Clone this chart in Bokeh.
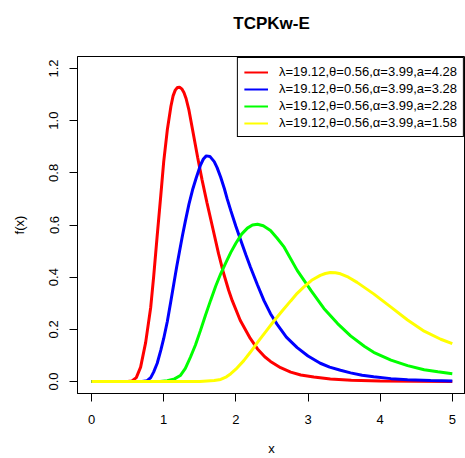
from bokeh.plotting import figure
from bokeh.models import Range1d, FixedTicker, Legend, LegendItem, LinearAxis
from bokeh.embed import file_html
from bokeh.resources import INLINE

# ---- data ----
x_ticks = [0, 1, 2, 3, 4, 5]
y_ticks = [0.0, 0.2, 0.4, 0.6, 0.8, 1.0, 1.2]
y_tick_labels = ["0.0", "0.2", "0.4", "0.6", "0.8", "1.0", "1.2"]

red_x = [0.0, 0.5, 0.56, 0.62, 0.68, 0.75, 0.82, 0.86, 0.91, 0.96, 1.0, 1.05, 1.1, 1.13, 1.16,
         1.19, 1.22, 1.25, 1.28, 1.31, 1.35, 1.4, 1.47, 1.53, 1.6, 1.67, 1.76, 1.83, 1.9, 1.95,
         2.06, 2.2, 2.3, 2.4, 2.48, 2.62, 2.76, 2.9, 3.08, 3.31, 3.6, 4.0, 4.5, 5.0]
red_y = [0.0, 0.0, 0.002, 0.015, 0.055, 0.15, 0.285, 0.40, 0.56, 0.715, 0.843, 0.965, 1.055, 1.095, 1.117,
         1.127, 1.128, 1.122, 1.108, 1.085, 1.04, 0.965, 0.86, 0.775, 0.685, 0.60, 0.49, 0.415, 0.35, 0.31,
         0.235, 0.165, 0.125, 0.095, 0.077, 0.053, 0.036, 0.025, 0.017, 0.010, 0.005, 0.002, 0.001, 0.0]

blue_x = [0.0, 0.7, 0.77, 0.82, 0.86, 0.91, 0.96, 1.0, 1.05, 1.1, 1.14, 1.18, 1.22, 1.26, 1.3,
          1.35, 1.4, 1.45, 1.51, 1.55, 1.59, 1.64, 1.7, 1.74, 1.79, 1.84, 1.88, 1.93, 2.0, 2.07,
          2.14, 2.2, 2.3, 2.39, 2.48, 2.57, 2.7, 2.85, 3.0, 3.17, 3.3, 3.45, 3.59, 3.75, 3.91,
          4.15, 4.38, 4.7, 5.0]
blue_y = [0.0, 0.0, 0.003, 0.015, 0.036, 0.07, 0.12, 0.165, 0.23, 0.31, 0.375, 0.44, 0.50, 0.56, 0.615,
          0.68, 0.735, 0.78, 0.83, 0.853, 0.865, 0.863, 0.843, 0.82, 0.783, 0.74, 0.70, 0.655, 0.595, 0.54,
          0.485, 0.44, 0.37, 0.31, 0.26, 0.22, 0.17, 0.13, 0.098, 0.07, 0.055, 0.043, 0.033, 0.024, 0.018,
          0.011, 0.007, 0.004, 0.002]

green_x = [0.0, 0.95, 1.05, 1.15, 1.23, 1.3, 1.37, 1.44, 1.51, 1.58, 1.65, 1.72, 1.79, 1.86, 1.93,
           2.0, 2.08, 2.16, 2.23, 2.3, 2.38, 2.48, 2.57, 2.67, 2.85, 3.04, 3.22, 3.41, 3.59, 3.78,
           3.91, 4.15, 4.38, 4.61, 4.8, 5.0]
green_y = [0.0, 0.0, 0.003, 0.01, 0.023, 0.05, 0.093, 0.14, 0.196, 0.255, 0.311, 0.365, 0.413, 0.455, 0.495,
           0.53, 0.565, 0.588, 0.60, 0.603, 0.597, 0.579, 0.55, 0.515, 0.426, 0.349, 0.28, 0.222, 0.175, 0.135,
           0.112, 0.082, 0.061, 0.045, 0.037, 0.03]

yellow_x = [0.0, 1.5, 1.6, 1.7, 1.79, 1.87, 1.93, 2.0, 2.11, 2.2, 2.3, 2.42, 2.53, 2.65, 2.76, 2.85,
            2.94, 3.05, 3.17, 3.24, 3.31, 3.38, 3.45, 3.56, 3.68, 3.91, 4.15, 4.38, 4.61, 4.84, 5.0]
yellow_y = [0.0, 0.0, 0.002, 0.004, 0.008, 0.018, 0.03, 0.047, 0.08, 0.112, 0.15, 0.193, 0.233, 0.273, 0.309,
            0.338, 0.362, 0.388, 0.407, 0.414, 0.418, 0.417, 0.413, 0.40, 0.38, 0.336, 0.285, 0.236, 0.193,
            0.162, 0.145]

series_labels = ["λ=19.12,θ=0.56,α=3.99,a=4.28",
                 "λ=19.12,θ=0.56,α=3.99,a=3.28",
                 "λ=19.12,θ=0.56,α=3.99,a=2.28",
                 "λ=19.12,θ=0.56,α=3.99,a=1.58"]
series_colors = ["#FF0000", "#0000FF", "#00FF00", "#FFFF00"]

FONT = "Liberation Sans"

p = figure(width=465, height=458, output_backend="svg", toolbar_location=None,
           x_range=Range1d(-0.195, 5.183), y_range=Range1d(-0.046, 1.246),
           min_border_left=77, min_border_right=0, min_border_top=56, min_border_bottom=65,
           title="TCPKw-E", x_axis_label="x", y_axis_label="f(x)")

xax = p.below[0]
yax = p.left[0]

p.background_fill_color = "white"
p.border_fill_color = "white"
p.outline_line_color = "black"
p.outline_line_width = 1
p.xgrid.visible = False
p.ygrid.visible = False

p.title.align = "center"
p.title.text_font = FONT
p.title.text_font_size = "17px"
p.title.text_font_style = "bold"
p.title.text_color = "black"
p.title.standoff = 10

for ax in (xax, yax):
    ax.axis_line_color = "black"
    ax.major_tick_line_color = "black"
    ax.major_tick_out = 8
    ax.major_tick_in = 0
    ax.minor_tick_line_color = None
    ax.major_label_text_font = FONT
    ax.major_label_text_font_size = "13px"
    ax.major_label_text_color = "black"
    ax.axis_label_text_font = FONT
    ax.axis_label_text_font_size = "13px"
    ax.axis_label_text_font_style = "normal"
    ax.axis_label_text_color = "black"

xax.ticker = FixedTicker(ticks=x_ticks)
yax.ticker = FixedTicker(ticks=y_ticks)
yax.major_label_overrides = {t: s for t, s in zip(y_ticks, y_tick_labels)}
yax.major_label_orientation = "vertical"
xax.major_label_standoff = 13
xax.axis_label_standoff = 14
yax.major_label_standoff = 11
yax.axis_label_standoff = 20

# invisible spacer between title and frame: one hidden tick, empty label, no lines
spacer = LinearAxis(ticker=FixedTicker(ticks=x_ticks[:1]), axis_line_color=None,
                    major_tick_line_color=None, minor_tick_line_color=None,
                    major_tick_out=19, major_tick_in=0, minor_tick_out=0,
                    major_label_standoff=0, major_label_text_font_size="1px",
                    major_label_overrides={x_ticks[0]: ""})
p.add_layout(spacer, "above")

curves = [(red_x, red_y), (blue_x, blue_y), (green_x, green_y), (yellow_x, yellow_y)]
items = []
for (xs, ys), col, lab in zip(curves, series_colors, series_labels):
    p.line(xs, ys, line_color=col, line_width=3)
    key = p.line(xs[:1], ys[:1], line_color=col, line_width=2)
    items.append(LegendItem(label=lab, renderers=[key]))

legend = Legend(items=items, location="top_right")
legend.margin = 1
legend.padding = 6
legend.spacing = 2
legend.glyph_width = 24
legend.glyph_height = 12
legend.label_height = 12
legend.label_standoff = 11
legend.label_text_font = FONT
legend.label_text_font_size = "13px"
legend.label_text_color = "black"
legend.border_line_color = "black"
legend.border_line_width = 1
legend.border_line_alpha = 1.0
legend.background_fill_color = "white"
legend.background_fill_alpha = 1.0
p.add_layout(legend, "center")

open("out.html", "w").write(file_html(p, INLINE))
